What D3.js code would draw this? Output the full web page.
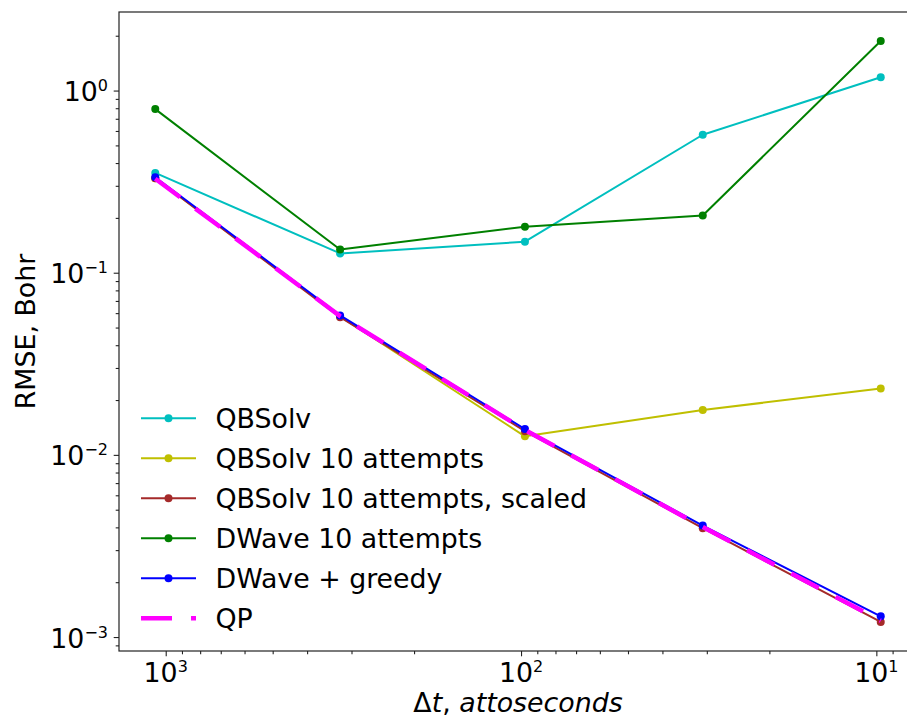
<!DOCTYPE html>
<html>
<head>
<meta charset="utf-8">
<script src="https://cdn.jsdelivr.net/npm/d3@7/dist/d3.min.js"></script>
<style>
  body { margin: 0; background: #fff; }
  svg { display: block; font-family: "DejaVu Sans", sans-serif; }
</style>
</head>
<body>
<svg width="907" height="718"></svg>
<script>
// time steps (attoseconds) and RMSE per method
const dtValues = [1070, 323, 97.5, 30.8, 9.72];

const qbsolv         = [0.353, 0.1276, 0.148, 0.572, 1.184];
const qbsolv10       = [0.330, 0.0575, 0.01264, 0.01762, 0.02316];
const qbsolv10Scaled = [0.330, 0.0570, 0.0135, 0.00396, 0.00121];
const dwave10        = [0.791, 0.134, 0.179, 0.206, 1.87];
const dwaveGreedy    = [0.334, 0.0583, 0.01386, 0.00409, 0.0013];
const qpValues       = [0.328, 0.0578, 0.0137, 0.00402, 0.00123];

const seriesNames = ['QBSolv', 'QBSolv 10 attempts', 'QBSolv 10 attempts, scaled',
                     'DWave 10 attempts', 'DWave + greedy', 'QP'];

const xTickExps = [3, 2, 1];
const yTickExps = [0, -1, -2, -3];

const series = [
  {name: seriesNames[0], values: qbsolv,         color: '#00bfbf', markers: true},
  {name: seriesNames[1], values: qbsolv10,       color: '#bfbf00', markers: true},
  {name: seriesNames[2], values: qbsolv10Scaled, color: '#a52a2a', markers: true},
  {name: seriesNames[3], values: dwave10,        color: '#008000', markers: true},
  {name: seriesNames[4], values: dwaveGreedy,    color: '#0000ff', markers: true},
  {name: seriesNames[5], values: qpValues,       color: '#ff00ff', markers: false}
];

const plot = {left: 119, right: 917, top: 12, bottom: 651};
const fontSize = 26.8;

// matplotlib style 5% margin in log space
function padLog(vals) {
  const lo = Math.log10(d3.min(vals)), hi = Math.log10(d3.max(vals));
  const p = (hi - lo) * 0.05;
  return [Math.pow(10, lo - p), Math.pow(10, hi + p)];
}

const xDom = padLog(dtValues);
const x = d3.scaleLog()
  .domain([xDom[1], xDom[0]]) // reversed axis
  .range([plot.left, plot.right]);

const yDom = padLog(series.flatMap(s => s.values));
const y = d3.scaleLog()
  .domain(yDom)
  .range([plot.bottom, plot.top]);

const svg = d3.select('svg');

// minor ticks
const isMajor = v => Math.abs(Math.log10(v) - Math.round(Math.log10(v))) < 1e-9;

svg.append('g')
  .attr('transform', `translate(${plot.left},0)`)
  .call(d3.axisLeft(y).tickValues(y.ticks().filter(v => !isMajor(v))).tickSize(3.3).tickSizeOuter(0).tickFormat(''));
svg.append('g')
  .attr('transform', `translate(${plot.left},0)`)
  .call(d3.axisLeft(y).tickValues(yTickExps.map(e => Math.pow(10, e))).tickSize(5.3).tickSizeOuter(0).tickFormat(''));

svg.append('g')
  .attr('transform', `translate(0,${plot.bottom})`)
  .call(d3.axisBottom(x).tickValues(x.ticks().filter(v => !isMajor(v))).tickSize(3.3).tickSizeOuter(0).tickFormat(''));
svg.append('g')
  .attr('transform', `translate(0,${plot.bottom})`)
  .call(d3.axisBottom(x).tickValues(xTickExps.map(e => Math.pow(10, e))).tickSize(5.3).tickSizeOuter(0).tickFormat(''));

svg.selectAll('.tick line').attr('stroke', '#222').attr('stroke-width', 1.1);
svg.selectAll('.domain').remove();

// frame
svg.append('rect')
  .attr('x', plot.left).attr('y', plot.top)
  .attr('width', plot.right - plot.left).attr('height', plot.bottom - plot.top)
  .attr('fill', 'none').attr('stroke', '#222').attr('stroke-width', 1.2);

// tick labels with superscript exponents
function powLabel(sel) {
  sel.append('tspan').text('10');
  sel.append('tspan')
    .attr('dy', -10)
    .attr('font-size', 16)
    .text(e => String(e).replace('-', '\u2212'));
}

svg.append('g').selectAll('text')
  .data(yTickExps)
  .enter()
  .append('text')
  .attr('x', plot.left - 11)
  .attr('y', e => y(Math.pow(10, e)) + 10.5)
  .attr('text-anchor', 'end')
  .attr('font-size', fontSize)
  .attr('fill', '#000')
  .call(powLabel);

svg.append('g').selectAll('text')
  .data(xTickExps)
  .enter()
  .append('text')
  .attr('x', e => x(Math.pow(10, e)))
  .attr('y', 681.5)
  .attr('text-anchor', 'middle')
  .attr('font-size', fontSize)
  .attr('fill', '#000')
  .call(powLabel);

// axis titles
svg.append('text')
  .attr('transform', `translate(35,${(plot.top + plot.bottom) / 2}) rotate(-90)`)
  .attr('text-anchor', 'middle')
  .attr('font-size', fontSize)
  .text('RMSE, Bohr');

const xl = svg.append('text')
  .attr('x', (plot.left + plot.right) / 2)
  .attr('y', 712)
  .attr('text-anchor', 'middle')
  .attr('font-size', fontSize);
xl.append('tspan').text('\u0394');
xl.append('tspan').attr('font-style', 'italic').text('t');
xl.append('tspan').text(', ');
xl.append('tspan').attr('font-style', 'italic').text('attoseconds');

// lines + markers
const line = d3.line()
  .x((d, i) => x(dtValues[i]))
  .y(d => y(d));

series.forEach(s => {
  const g = svg.append('g');
  g.append('path')
    .attr('d', line(s.values))
    .attr('fill', 'none')
    .attr('stroke', s.color)
    .attr('stroke-width', s.markers ? 2 : 4.5)
    .attr('stroke-dasharray', s.markers ? null : '31,19')
    .attr('stroke-linejoin', 'round');
  if (s.markers) {
    g.selectAll('circle')
      .data(s.values)
      .enter()
      .append('circle')
      .attr('cx', (d, i) => x(dtValues[i]))
      .attr('cy', d => y(d))
      .attr('r', 4)
      .attr('fill', s.color);
  }
});

// legend
const legend = svg.append('g');
const rowY = i => 418.3 + i * 40;

series.forEach((s, i) => {
  legend.append('line')
    .attr('x1', 141).attr('x2', 196)
    .attr('y1', rowY(i)).attr('y2', rowY(i))
    .attr('stroke', s.color)
    .attr('stroke-width', s.markers ? 2 : 4.5)
    .attr('stroke-dasharray', s.markers ? null : '31,19');
  if (s.markers) {
    legend.append('circle')
      .attr('cx', 168.5).attr('cy', rowY(i)).attr('r', 4)
      .attr('fill', s.color);
  }
  legend.append('text')
    .attr('x', 215.5)
    .attr('y', rowY(i) + 9.5)
    .attr('font-size', fontSize)
    .text(s.name);
});
</script>
</body>
</html>
